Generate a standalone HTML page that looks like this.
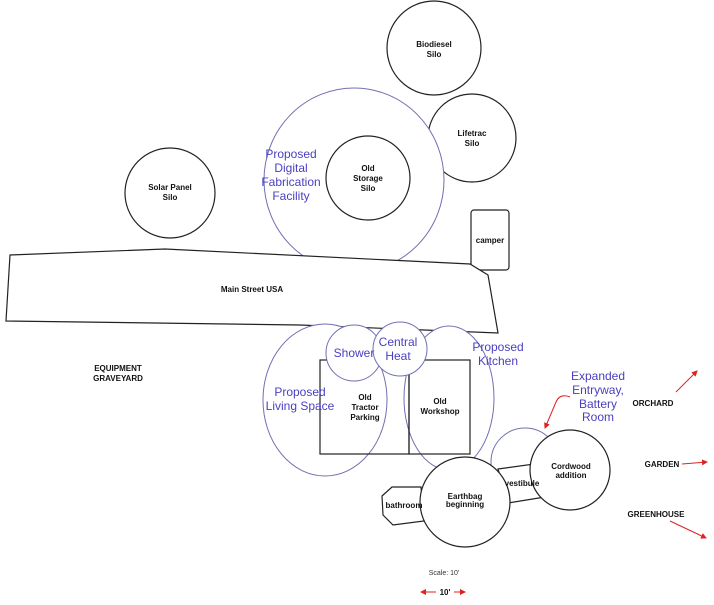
<!DOCTYPE html>
<html><head><style>
body{margin:0;background:#fff}
svg text{font-family:"Liberation Sans",sans-serif}
.b{font-size:8px;font-weight:bold;fill:#111;text-anchor:middle}
.p{font-size:12px;fill:#4a3fc0;text-anchor:middle}
</style></head><body>
<svg width="714" height="600" viewBox="0 0 714 600">
<defs><marker id="a" markerWidth="6" markerHeight="6" refX="5" refY="3" orient="auto"><path d="M0,0L6,3L0,6z" fill="#d22"/></marker></defs>
<g fill="#fff" stroke="#222" stroke-width="1.2">
<circle cx="434" cy="48" r="47"/>
<circle cx="472" cy="138" r="44"/>
</g>
<ellipse cx="354" cy="180" rx="90" ry="92" fill="#fff" stroke="#7070b0"/>
<g fill="#fff" stroke="#222" stroke-width="1.2">
<circle cx="368" cy="178" r="42"/>
<circle cx="170" cy="193" r="45"/>
<rect x="471" y="210" width="38" height="60" rx="3"/>
<polygon points="10,255 165,249 470,264 488,275 498,333 300,325 6,321"/>
</g>
<ellipse cx="325" cy="400" rx="62" ry="76" fill="#fff" stroke="#7070b0"/>
<ellipse cx="449" cy="398" rx="45" ry="72" fill="#fff" stroke="#7070b0"/>
<circle cx="525" cy="462" r="34" fill="#fff" stroke="#7070b0"/>
<g fill="none" stroke="#222" stroke-width="1.2">
<rect x="320" y="360" width="89" height="94"/>
<rect x="409" y="360" width="61" height="94"/>
</g>
<circle cx="354" cy="353" r="28" fill="#fff" stroke="#7070b0"/>
<circle cx="400" cy="349" r="27" fill="#fff" stroke="#7070b0"/>
<g fill="#fff" stroke="#222" stroke-width="1.2">
<polygon points="382,496 392,487 421,487 424,521 393,525 383,515"/>
<polygon points="498,469 534,464 545,497 508,503"/>
<circle cx="465" cy="502" r="45"/>
<circle cx="570" cy="470" r="40"/>
</g>
<text class="b" x="434" y="47">Biodiesel</text><text class="b" x="434" y="57">Silo</text>
<text class="b" x="472" y="136">Lifetrac</text><text class="b" x="472" y="146">Silo</text>
<text class="b" x="368" y="171">Old</text><text class="b" x="368" y="181">Storage</text><text class="b" x="368" y="191">Silo</text>
<text class="b" x="170" y="190">Solar Panel</text><text class="b" x="170" y="200">Silo</text>
<text class="b" x="490" y="243">camper</text>
<text class="b" x="252" y="292">Main Street USA</text>
<text class="b" x="118" y="371">EQUIPMENT</text><text class="b" x="118" y="381">GRAVEYARD</text>
<text class="b" x="365" y="400">Old</text><text class="b" x="365" y="410">Tractor</text><text class="b" x="365" y="420">Parking</text>
<text class="b" x="440" y="404">Old</text><text class="b" x="440" y="414">Workshop</text>
<text class="b" x="465" y="499">Earthbag</text><text class="b" x="465" y="507">beginning</text>
<text class="b" x="404" y="508">bathroom</text>
<text class="b" x="522" y="486">vestibule</text>
<text class="b" x="571" y="469">Cordwood</text><text class="b" x="571" y="478">addition</text>
<text class="b" x="653" y="406">ORCHARD</text>
<text class="b" x="662" y="467">GARDEN</text>
<text class="b" x="656" y="517">GREENHOUSE</text>
<text x="444" y="575" style="font-size:7px;fill:#333" text-anchor="middle">Scale: 10'</text>
<text class="b" x="445" y="595">10'</text>
<text class="p" x="291" y="158">Proposed</text><text class="p" x="291" y="172">Digital</text><text class="p" x="291" y="186">Fabrication</text><text class="p" x="291" y="200">Facility</text>
<text class="p" x="300" y="396">Proposed</text><text class="p" x="300" y="410">Living Space</text>
<text class="p" x="354" y="357">Shower</text>
<text class="p" x="398" y="346">Central</text><text class="p" x="398" y="360">Heat</text>
<text class="p" x="498" y="351">Proposed</text><text class="p" x="498" y="365">Kitchen</text>
<text class="p" x="598" y="380">Expanded</text><text class="p" x="598" y="394">Entryway,</text><text class="p" x="598" y="408">Battery</text><text class="p" x="598" y="421">Room</text>
<g stroke="#d22" stroke-width="1" fill="none" marker-end="url(#a)">
<path d="M570,397 Q560,393 556,402 L545,428"/>
<line x1="676" y1="392" x2="697" y2="371"/>
<line x1="682" y1="464" x2="707" y2="462"/>
<line x1="670" y1="521" x2="706" y2="538"/>
<line x1="436" y1="592" x2="421" y2="592"/>
<line x1="454" y1="592" x2="465" y2="592"/>
</g>
</svg>
</body></html>
